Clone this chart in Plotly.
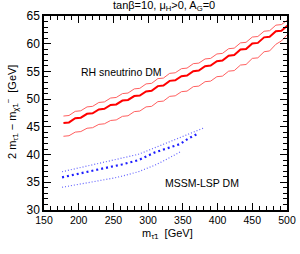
import plotly.graph_objects as go

# ---- data ----
red_x = [178, 186, 195, 203, 212, 220, 229, 237, 246, 254, 263, 271, 280, 288, 297, 305,
         314, 322, 331, 339, 348, 356, 365, 373, 382, 390, 399, 407, 416, 424, 433, 441,
         450, 458, 467, 475, 484, 492, 501]
red_mid = [45.7, 45.8, 46.55, 46.65, 47.35, 47.45, 48.15, 48.25, 48.95, 49.05, 49.75, 49.85,
           50.55, 50.65, 51.4, 51.5, 52.35, 52.45, 53.3, 53.4, 54.15, 54.25, 55.05, 55.15,
           55.95, 56.05, 56.85, 56.95, 57.85, 57.95, 58.95, 59.05, 60.05, 60.15, 61.15, 61.25,
           62.25, 62.35, 63.3]
red_up = [46.95, 47.05, 47.8, 47.9, 48.6, 48.7, 49.4, 49.5, 50.2, 50.3, 51.0, 51.1,
          51.85, 51.95, 52.75, 52.85, 53.7, 53.8, 54.65, 54.75, 55.5, 55.6, 56.4, 56.5,
          57.25, 57.35, 58.15, 58.25, 59.1, 59.2, 60.15, 60.25, 61.2, 61.3, 62.25, 62.35,
          63.35, 63.45, 64.3]
red_lo = [43.3, 43.4, 44.05, 44.15, 44.75, 44.85, 45.45, 45.55, 46.15, 46.25, 46.9, 47.0,
          47.75, 47.85, 48.6, 48.7, 49.55, 49.65, 50.5, 50.6, 51.35, 51.45, 52.25, 52.35,
          53.15, 53.25, 54.05, 54.15, 55.05, 55.15, 56.15, 56.25, 57.35, 57.45, 58.55, 58.7,
          59.9, 60.5, 61.7]

blue_mid_x = [176, 190, 205, 214, 226, 238, 250, 262, 274, 286, 298, 310, 322, 334, 346, 358, 372]
blue_mid = [35.9, 36.3, 36.7, 36.9, 37.25, 37.6, 37.9, 38.2, 38.6, 39.0, 39.7, 40.4, 40.9,
            41.4, 41.9, 42.9, 43.8]
blue_up_x = [176, 190, 205, 220, 238, 250, 262, 274, 286, 298, 310, 322, 334, 346, 358, 370, 380]
blue_up = [36.9, 37.3, 37.7, 38.1, 38.6, 38.95, 39.3, 39.65, 40.05, 40.65, 41.25, 41.85,
           42.45, 43.05, 43.65, 44.2, 44.8]
blue_lo_x = [176, 190, 205, 220, 238, 250, 262, 274, 286, 298, 310, 322, 334, 348]
blue_lo = [34.1, 34.4, 34.75, 35.05, 35.4, 35.75, 36.1, 36.5, 36.9, 37.5, 38.1, 38.85, 39.6, 40.6]

x_range = [150, 500]
y_range = [30, 65]

W, H = 300, 254
ML, MR, MT, MB = 44, 13, 16, 44
pw, ph = W - ML - MR, H - MT - MB


def px(x):
    return (x - ML) / pw


def py(y):
    return 1 - (y - MT) / ph


fig = go.Figure()
light_red = "rgb(255,95,95)"
fig.add_trace(go.Scatter(x=red_x, y=red_up, mode="lines", line=dict(color=light_red, width=1)))
fig.add_trace(go.Scatter(x=red_x, y=red_lo, mode="lines", line=dict(color=light_red, width=1)))
fig.add_trace(go.Scatter(x=red_x, y=red_mid, mode="lines", line=dict(color="rgb(255,0,0)", width=2)))

light_blue = "rgb(100,100,255)"
fig.add_trace(go.Scatter(x=blue_up_x, y=blue_up, mode="lines",
                         line=dict(color=light_blue, width=1.2, dash="1px,2px")))
fig.add_trace(go.Scatter(x=blue_lo_x, y=blue_lo, mode="lines",
                         line=dict(color=light_blue, width=1.2, dash="1px,2px")))
fig.add_trace(go.Scatter(x=blue_mid_x, y=blue_mid, mode="lines",
                         line=dict(color="rgb(30,30,255)", width=2.2, dash="2px,3px")))

font = "Liberation Sans, Arial, sans-serif"


def ann(text, x, y, size, angle=0):
    return dict(text=text, x=px(x), y=py(y), xref="paper", yref="paper", showarrow=False,
                xanchor="center", yanchor="middle", textangle=angle, font=dict(size=size))


fig.update_layout(
    width=W, height=H,
    margin=dict(l=ML, r=MR, t=MT, b=MB),
    paper_bgcolor="white", plot_bgcolor="white",
    showlegend=False,
    font=dict(family=font, color="black", size=11),
    annotations=[
        ann("tanβ=10, μ<sub>H</sub>>0, A<sub>G</sub>=0", 164, 6, 11),
        ann("RH sneutrino DM", 121, 72, 10.5),
        ann("MSSM-LSP DM", 202, 183, 10.5),
        ann("m<sub>τ̃1</sub>  [GeV]", 167, 234, 11),
        ann("2 m<sub>τ̃1</sub> − m<sub>χ̃1</sub><sup>−</sup>  [GeV]", 12, 112, 11, -90),
    ],
)

fig.update_xaxes(
    range=x_range, dtick=50, tick0=150, ticks="inside", ticklen=7, tickwidth=1,
    tickcolor="black", showline=True, linecolor="black", linewidth=1.5, mirror="ticks",
    showgrid=False, zeroline=False, tickfont=dict(size=10.5), automargin=False,
    minor=dict(dtick=10, ticks="inside", ticklen=4, tickcolor="black", showgrid=False),
)
fig.update_yaxes(
    range=y_range, dtick=5, tick0=30, ticks="inside", ticklen=7, tickwidth=1,
    tickcolor="black", showline=True, linecolor="black", linewidth=1.5, mirror="ticks",
    showgrid=False, zeroline=False, tickfont=dict(size=12), automargin=False,
    minor=dict(dtick=1, ticks="inside", ticklen=4, tickcolor="black", showgrid=False),
)

fig.write_html("out.html", config={"displayModeBar": False},
               post_script="document.body.style.margin='0';")
